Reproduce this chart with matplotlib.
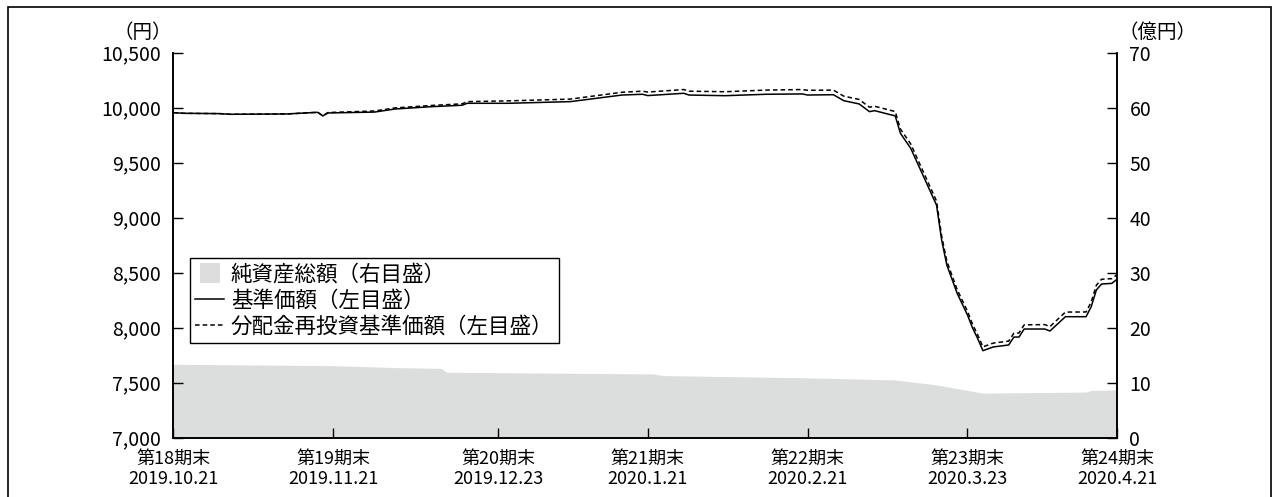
import pandas as pd
import matplotlib
matplotlib.use('Agg')
import matplotlib.pyplot as plt
from matplotlib.patches import Patch, Rectangle
from matplotlib.lines import Line2D
from matplotlib.legend_handler import HandlerPatch

plt.rcParams['font.family'] = ['Noto Sans CJK JP', 'DejaVu Sans']

# 基準価額 / 分配金再投資基準価額 (円)
nav_dates = ['2019-10-21', '2019-10-23', '2019-10-30', '2019-11-01', '2019-11-12',
             '2019-11-18', '2019-11-19', '2019-11-20', '2019-11-29', '2019-12-03',
             '2019-12-10', '2019-12-16', '2019-12-17', '2019-12-25', '2020-01-06',
             '2020-01-16', '2020-01-20', '2020-01-21', '2020-01-28', '2020-01-29',
             '2020-02-05', '2020-02-13', '2020-02-20', '2020-02-21', '2020-02-26',
             '2020-02-28', '2020-03-02', '2020-03-04', '2020-03-05', '2020-03-09',
             '2020-03-10', '2020-03-12', '2020-03-17', '2020-03-18', '2020-03-19',
             '2020-03-21', '2020-03-23', '2020-03-24', '2020-03-25', '2020-03-26',
             '2020-03-28', '2020-03-31', '2020-04-01', '2020-04-02', '2020-04-03',
             '2020-04-07', '2020-04-08', '2020-04-11', '2020-04-15', '2020-04-16',
             '2020-04-17', '2020-04-18', '2020-04-20', '2020-04-21']
nav = [9955, 9949, 9946, 9940, 9943, 9958, 9925, 9952, 9960, 9988,
       10009, 10022, 10040, 10040, 10055, 10115, 10122, 10110, 10131, 10115,
       10109, 10122, 10125, 10115, 10118, 10064, 10034, 9964, 9973, 9925,
       9767, 9631, 9115, 8797, 8570, 8313, 8116, 7997, 7900, 7791,
       7825, 7843, 7915, 7915, 7988, 7988, 7970, 8100, 8100, 8191,
       8343, 8397, 8403, 8440]
reinvest_nav = [9955, 9949, 9946, 9940, 9943, 9958, 9927, 9956, 9970, 9998,
                10020, 10035, 10055, 10062, 10078, 10140, 10150, 10142, 10165, 10150,
                10145, 10160, 10165, 10158, 10160, 10105, 10075, 10004, 10013, 9965,
                9806, 9670, 9152, 8833, 8605, 8347, 8150, 8030, 7934, 7826,
                7860, 7878, 7950, 7952, 8026, 8028, 8010, 8142, 8143, 8234,
                8386, 8440, 8446, 8482]

# 純資産総額 (億円)
asset_dates = ['2019-10-21', '2019-11-21', '2019-12-03', '2019-12-12', '2019-12-13',
               '2020-01-21', '2020-01-22', '2020-01-24', '2020-02-20', '2020-03-09',
               '2020-03-17', '2020-03-26', '2020-04-15', '2020-04-16', '2020-04-21']
net_assets = [13.35, 13.1, 12.75, 12.6, 11.9, 11.6, 11.6, 11.3, 10.9, 10.5,
              9.6, 8.1, 8.3, 8.6, 8.7]

tick_dates = ['2019-10-21', '2019-11-21', '2019-12-23', '2020-01-21',
              '2020-02-21', '2020-03-23', '2020-04-21']
tick_periods = ['第18期末', '第19期末', '第20期末', '第21期末', '第22期末', '第23期末', '第24期末']
tick_date_labels = ['2019.10.21', '2019.11.21', '2019.12.23', '2020.1.21',
                    '2020.2.21', '2020.3.23', '2020.4.21']
left_ticks = [7000, 7500, 8000, 8500, 9000, 9500, 10000, 10500]
right_ticks = [0, 10, 20, 30, 40, 50, 60, 70]

nav_x = pd.to_datetime(nav_dates)
asset_x = pd.to_datetime(asset_dates)
tick_x = pd.to_datetime(tick_dates)

GRAY = '#dcdddd'

fig = plt.figure(figsize=(12.77, 4.97), dpi=100)
ax = fig.add_axes([0.1357, 0.1193, 0.7390, 0.7747])
ax2 = ax.twinx()

# 純資産総額は右目盛 (下の軸)
ax.fill_between(asset_x, net_assets, 0, color=GRAY, lw=0)
ax.set_ylim(0, 70)
ax.set_yticks(right_ticks)
ax.yaxis.tick_right()
ax.tick_params(axis='y', direction='in', length=7, width=1, labelsize=14, pad=9)

# 基準価額は左目盛 (上の軸)
ax2.plot(nav_x, nav, color='black', lw=1.1)
ax2.plot(nav_x, reinvest_nav, color='black', lw=1.1, linestyle=(0, (3, 2)))
ax2.set_ylim(7000, 10500)
ax2.set_yticks(left_ticks)
ax2.set_yticklabels([f'{v:,}' for v in left_ticks])
ax2.yaxis.tick_left()
ax2.tick_params(axis='y', direction='in', length=7, width=1, labelsize=14, pad=9)

ax.set_xlim(tick_x[0], tick_x[-1])
ax.set_xticks(tick_x)
ax.set_xticklabels([f'{p}\n{d}' for p, d in zip(tick_periods, tick_date_labels)],
                   linespacing=1.12)
ax.tick_params(axis='x', direction='in', length=7, width=1, labelsize=13, pad=9)
ax2.tick_params(axis='x', bottom=False, top=False)

for a in (ax, ax2):
    a.spines['top'].set_visible(False)
    for s in ('left', 'right', 'bottom'):
        a.spines[s].set_linewidth(1.2)

fig.text(143 / 1277, 1 - 32 / 497, '（円）', fontsize=14, ha='center', va='center')
fig.text(1158 / 1277, 1 - 32 / 497, '（億円）', fontsize=14, ha='center', va='center')


def square_patch(legend, orig_handle, xdescent, ydescent, width, height, fontsize):
    s = 14.0
    return Rectangle((width / 2 - s / 2 - xdescent, height / 2 - s / 2 - ydescent), s, s)


handles = [Patch(facecolor=GRAY, edgecolor='none'),
           Line2D([], [], color='black', lw=1.1),
           Line2D([], [], color='black', lw=1.1, linestyle=(0, (3, 2)))]
labels = ['純資産総額（右目盛）', '基準価額（左目盛）', '分配金再投資基準価額（左目盛）']
leg = ax2.legend(handles, labels, loc='upper left',
                 bbox_to_anchor=(190 / 1277, 1 - 258 / 497), bbox_transform=fig.transFigure,
                 borderaxespad=0, fancybox=False, framealpha=1, edgecolor='black',
                 fontsize=15.5, handlelength=1.35, handletextpad=0.3,
                 labelspacing=0.2, borderpad=0.25,
                 handler_map={handles[0]: HandlerPatch(patch_func=square_patch)})
leg.get_frame().set_linewidth(1.0)

fig.patches.append(Rectangle((8 / 1277, -0.05), (1271 - 8) / 1277, 1.05 - 7 / 497,
                             transform=fig.transFigure, fill=False, lw=1.2, color='black'))

fig.savefig('out.png', dpi=100)
